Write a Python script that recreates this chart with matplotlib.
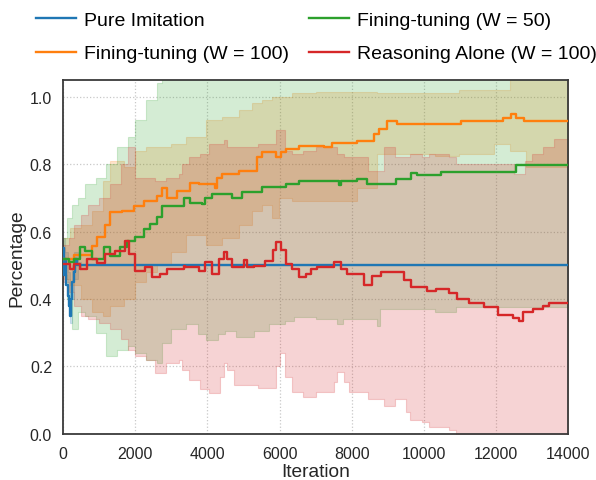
import matplotlib

matplotlib.use("Agg")
import matplotlib.pyplot as plt
import numpy as np

plt.rcParams["font.family"] = ["Liberation Sans", "DejaVu Sans"]

X_END = 14000

# ---- mean curves (iteration, percentage), step-wise ----
blue_x = [0, 30, 60, 90, 120, 150, 180, 210, 250, 290, 330, 380]
blue_y = [0.55, 0.47, 0.52, 0.44, 0.41, 0.38, 0.35, 0.40, 0.45, 0.48, 0.52, 0.50]

orange_x = [0, 287, 796, 935, 1167, 1306, 1630, 1954, 2232, 2602,
            2741, 2880, 3158, 3528, 3760, 4222, 4269, 4408, 4871, 5380,
            5519, 5889, 6028, 6167, 6537, 7231, 7463, 8157, 8620, 8759,
            8991, 9269, 11028, 12185, 12416, 12555, 12787]
orange_y = [0.52, 0.53, 0.558, 0.583, 0.62, 0.657, 0.66, 0.677, 0.69, 0.706,
            0.73, 0.70, 0.72, 0.745, 0.74, 0.73, 0.76, 0.77, 0.78, 0.82,
            0.835, 0.82, 0.835, 0.845, 0.855, 0.85, 0.864, 0.869, 0.889, 0.904,
            0.928, 0.918, 0.928, 0.938, 0.948, 0.938, 0.928]

green_x = [0, 148, 287, 472, 611, 796, 1120, 1306, 1583, 1769,
           2000, 2232, 2417, 2602, 2741, 3343, 3528, 3852, 3945, 4130,
           4685, 4963, 5519, 6167, 6537, 7648, 7694, 8157, 8435, 9222,
           9639, 9824, 10472, 12555]
green_y = [0.52, 0.51, 0.52, 0.553, 0.543, 0.52, 0.553, 0.528, 0.553, 0.573,
           0.583, 0.607, 0.622, 0.642, 0.677, 0.70, 0.686, 0.681, 0.70, 0.711,
           0.70, 0.716, 0.731, 0.74, 0.749, 0.739, 0.749, 0.757, 0.74, 0.756,
           0.775, 0.768, 0.777, 0.798]

red_x = [0, 194, 287, 472, 657, 935, 1167, 1445, 1722, 1815,
         2000, 2278, 2463, 2695, 2880, 3343, 3389, 3760, 3945, 4130,
         4315, 4454, 4547, 4685, 5010, 5102, 5287, 5611, 5815, 5889,
         6028, 6167, 6352, 6537, 6723, 6861, 7046, 7509, 7694, 7880,
         8343, 8574, 8806, 9454, 9639, 10102, 10333, 10703, 10935, 11259,
         11676, 12046, 12463, 12648, 12741, 13018, 13296, 13481]
red_y = [0.504, 0.489, 0.504, 0.489, 0.518, 0.508, 0.533, 0.543, 0.573, 0.533,
         0.484, 0.494, 0.464, 0.474, 0.489, 0.499, 0.494, 0.484, 0.509, 0.474,
         0.518, 0.538, 0.518, 0.494, 0.516, 0.494, 0.499, 0.514, 0.545, 0.568,
         0.545, 0.504, 0.489, 0.464, 0.474, 0.489, 0.494, 0.509, 0.489, 0.474,
         0.44, 0.469, 0.479, 0.455, 0.435, 0.425, 0.43, 0.417, 0.40, 0.387,
         0.375, 0.351, 0.344, 0.335, 0.36, 0.37, 0.378, 0.388]

# ---- shaded bands (iteration, lower, upper) ----
blue_band_x = [0, 60, 120, 180, 240, 300, 400, 500]
blue_band_lo = [0.50, 0.46, 0.38, 0.33, 0.40, 0.46, 0.49, 0.50]
blue_band_hi = [0.58, 0.54, 0.48, 0.40, 0.50, 0.54, 0.51, 0.50]

orange_band_x = [0, 200, 500, 800, 1100, 1300, 1700, 2000, 2300, 2600,
                 3000, 3400, 3950, 4400, 4870, 5240, 5520, 5800, 5980, 6350,
                 7000, 8150, 8710, 10300, 10980, 11950, 12400, 12830]
orange_band_lo = [0.46, 0.44, 0.40, 0.36, 0.35, 0.38, 0.40, 0.45, 0.48, 0.50,
                  0.54, 0.59, 0.56, 0.58, 0.62, 0.66, 0.68, 0.64, 0.70, 0.69,
                  0.69, 0.73, 0.83, 0.825, 0.83, 0.86, 0.84, 0.79]
orange_band_hi = [0.58, 0.61, 0.62, 0.66, 0.75, 0.81, 0.79, 0.84, 0.85, 0.85,
                  0.86, 0.88, 0.93, 0.94, 0.96, 0.98, 0.99, 1.00, 1.00, 1.01,
                  1.015, 1.015, 1.01, 1.01, 1.02, 1.02, 1.06, 1.07]

green_band_x = [0, 100, 250, 400, 600, 900, 1200, 1500, 1800, 2000,
                2300, 2600, 2750, 3000, 3400, 3750, 3950, 4300, 4500, 4800,
                5300, 5700, 6150, 6400, 7000, 7600, 7750, 8700, 8800, 10300,
                10900]
green_band_lo = [0.47, 0.40, 0.31, 0.36, 0.35, 0.30, 0.23, 0.25, 0.26, 0.24,
                 0.22, 0.21, 0.27, 0.31, 0.326, 0.296, 0.277, 0.296, 0.306, 0.286,
                 0.306, 0.326, 0.336, 0.346, 0.34, 0.326, 0.34, 0.32, 0.37, 0.36,
                 0.375]
green_band_hi = [0.58, 0.64, 0.68, 0.70, 0.74, 0.76, 0.80, 0.85, 0.88, 0.93,
                 0.99, 1.04, 1.08, 1.09, 1.10, 1.10, 1.12, 1.12, 1.12, 1.14,
                 1.15, 1.14, 1.15, 1.15, 1.16, 1.17, 1.16, 1.18, 1.17, 1.19,
                 1.22]

red_band_x = [0, 150, 300, 500, 700, 1000, 1300, 1600, 1800, 2000,
              2300, 2550, 2850, 3200, 3300, 3500, 3800, 4050, 4350, 4450,
              4550, 4750, 5400, 5900, 6000, 6150, 6350, 6650, 7000, 7500,
              7600, 7780, 7940, 8450, 8900, 9200, 9500, 9620, 9950, 10150,
              10700, 10900, 12500, 12800, 13000, 13300, 13600]
red_band_lo = [0.45, 0.42, 0.38, 0.35, 0.34, 0.33, 0.31, 0.28, 0.25, 0.23,
               0.22, 0.18, 0.21, 0.22, 0.19, 0.16, 0.134, 0.12, 0.17, 0.21,
               0.19, 0.144, 0.135, 0.20, 0.24, 0.17, 0.124, 0.11, 0.124, 0.153,
               0.183, 0.153, 0.124, 0.104, 0.084, 0.104, 0.064, 0.04, 0.035, 0.02,
               0.01, -0.02, -0.08, -0.09, -0.09, -0.09, -0.10]
red_band_hi = [0.56, 0.58, 0.62, 0.65, 0.68, 0.70, 0.74, 0.80, 0.85, 0.76,
               0.76, 0.75, 0.76, 0.77, 0.80, 0.82, 0.83, 0.86, 0.86, 0.87,
               0.85, 0.85, 0.86, 0.90, 0.90, 0.84, 0.83, 0.84, 0.85, 0.85,
               0.83, 0.82, 0.82, 0.78, 0.85, 0.82, 0.82, 0.83, 0.82, 0.83,
               0.82, 0.80, 0.77, 0.81, 0.83, 0.85, 0.874]

labels = ["Pure Imitation", "Fining-tuning (W = 100)",
          "Fining-tuning (W = 50)", "Reasoning Alone (W = 100)"]
colors = ["#1f77b4", "#ff7f0e", "#2ca02c", "#d62728"]


def _extend(x, *ys):
    # hold the last step until the end of the run
    out = [np.append(np.asarray(x, float), X_END)]
    for y in ys:
        y = np.asarray(y, float)
        out.append(np.append(y, y[-1]))
    return out


series = [
    (blue_x, blue_y, blue_band_x, blue_band_lo, blue_band_hi),
    (orange_x, orange_y, orange_band_x, orange_band_lo, orange_band_hi),
    (green_x, green_y, green_band_x, green_band_lo, green_band_hi),
    (red_x, red_y, red_band_x, red_band_lo, red_band_hi),
]

fig = plt.figure(figsize=(5.96, 4.81), dpi=100)
ax = fig.add_axes([0.106, 0.096, 0.847, 0.736])

for (mx, my, bx, blo, bhi), label, color in zip(series, labels, colors):
    lx, ly = _extend(mx, my)
    fx, flo, fhi = _extend(bx, blo, bhi)
    ax.plot(lx, ly, drawstyle="steps-post", color=color, lw=1.7, label=label, zorder=3)
    ax.fill_between(fx, flo, fhi, step="post", color=color, alpha=0.2, lw=0.8, zorder=2)

ax.set_xlim(0, X_END)
ax.set_ylim(0, 1.05)
ax.set_xticks(np.arange(0, X_END + 1, 2000))
ax.set_yticks(np.arange(0, 1.01, 0.2))
ax.set_yticklabels([f"{v:.1f}" for v in np.arange(0, 1.01, 0.2)])
ax.grid(True, linestyle=":", color="#c8c8c8", lw=0.9, zorder=0)
ax.tick_params(length=0, labelsize=11.5, colors="#262626")
ax.tick_params(axis="x", pad=9)
ax.tick_params(axis="y", pad=8)
for sp in ax.spines.values():
    sp.set_color("#3a3a3a")
    sp.set_linewidth(1.3)
ax.set_xlabel("Iteration", fontsize=13.8, color="#262626", labelpad=1)
ax.set_ylabel("Percentage", fontsize=13.8, color="#262626", labelpad=3)

ax.legend(loc="lower center", bbox_to_anchor=(0.502, 1.027), ncol=2, frameon=False,
          fontsize=14, handlelength=2.05, columnspacing=1.0, labelspacing=0.8,
          handletextpad=0.45, borderaxespad=0)

fig.savefig("out.png", dpi=100)
plt.close(fig)
